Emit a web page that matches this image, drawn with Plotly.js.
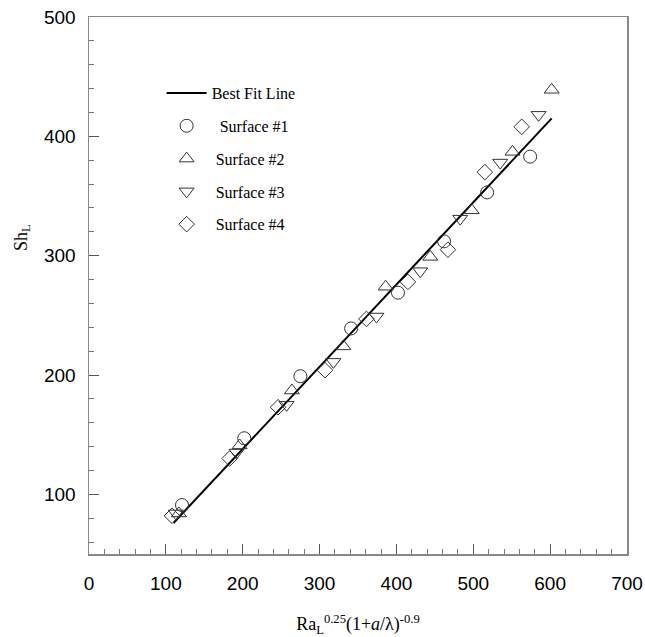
<!DOCTYPE html>
<html>
<head>
<meta charset="utf-8">
<script src="https://cdn.plot.ly/plotly-3.0.1.min.js"></script>
<style>html,body{margin:0;padding:0;background:#fff;}#chart{width:645px;height:637px;}</style>
</head>
<body>
<div id="chart"></div>
<script>
// Best fit line (end points)
const fitX = [110, 602];
const fitY = [76, 415];

// Surface #1 (circles)
const s1X = [121, 202, 275, 341, 402, 462, 518, 574];
const s1Y = [91, 147, 199, 239, 269, 312, 353, 383];

// Surface #2 (up triangles)
const s2X = [117, 196, 264, 331, 386, 444, 498, 551, 602];
const s2Y = [84, 141, 187, 224, 274, 299, 338, 387, 439];

// Surface #3 (down triangles)
const s3X = [113, 192, 257, 318, 374, 431, 483, 535, 585];
const s3Y = [84, 135, 175, 211, 249, 287, 331, 378, 418];

// Surface #4 (diamonds)
const s4X = [108, 183, 246, 307, 361, 415, 467, 515, 563];
const s4Y = [82, 130, 173, 204, 247, 278, 305, 370, 408];

const names = ['Best Fit Line', '\u00a0\u00a0Surface #1', '\u00a0Surface #2', '\u00a0Surface #3', '\u00a0Surface #4'];

const mk = (sym, size) => ({symbol: sym, size: size, color: '#333', line: {color: '#333', width: 1}});

const traces = [
  {x: fitX, y: fitY, type: 'scatter', mode: 'lines', name: names[0], legendgroup: 'g0',
   line: {color: '#000', width: 2}},
  {x: s1X, y: s1Y, type: 'scatter', mode: 'markers', name: names[1], legendgroup: 'g1', marker: mk('circle-open', 13)},
  {x: s2X, y: s2Y, type: 'scatter', mode: 'markers', name: names[2], legendgroup: 'g2', marker: mk('triangle-up-open', 13)},
  {x: s3X, y: s3Y, type: 'scatter', mode: 'markers', name: names[3], legendgroup: 'g3', marker: mk('triangle-down-open', 13)},
  {x: s4X, y: s4Y, type: 'scatter', mode: 'markers', name: names[4], legendgroup: 'g4', marker: mk('diamond-open', 12)}
];

const axisCommon = {
  showline: true, linecolor: '#888', linewidth: 1.5, mirror: true,
  ticks: 'inside', ticklen: 10, tickwidth: 1, tickcolor: '#555',
  showgrid: false, zeroline: false,
  tickfont: {family: 'Liberation Sans, Arial, sans-serif', size: 19, color: '#000'},
  minor: {ticks: 'inside', ticklen: 5, tickwidth: 1, tickcolor: '#777', dtick: 20, showgrid: false}
};

const layout = {
  width: 645, height: 637,
  margin: {l: 89, r: 18, t: 17, b: 83},
  paper_bgcolor: '#fff', plot_bgcolor: '#fff',
  showlegend: true,
  legend: {x: 0.135, y: 0.89, xanchor: 'left', yanchor: 'top', bgcolor: 'rgba(0,0,0,0)',
           font: {family: 'Liberation Serif, Times New Roman, serif', size: 16, color: '#000'},
           tracegroupgap: 9, traceorder: 'grouped', itemwidth: 40},
  xaxis: Object.assign({}, axisCommon, {
    range: [0, 700], dtick: 100, tick0: 0, ticklabelstandoff: 12,
    title: {text: 'Ra<sub>L</sub><sup>0.25</sup>(1+<i>a</i>/λ)<sup>-0.9</sup>',
            font: {family: 'Liberation Serif, Times New Roman, serif', size: 18, color: '#000'}, standoff: 24}
  }),
  yaxis: Object.assign({}, axisCommon, {
    range: [50, 500], dtick: 100, tick0: 0, ticklabelstandoff: 8
  }),
  annotations: [{
    text: 'Sh<sub>L</sub>', xref: 'paper', yref: 'paper', x: -0.125, y: 0.59,
    xanchor: 'center', yanchor: 'middle', textangle: -90, showarrow: false,
    font: {family: 'Liberation Serif, Times New Roman, serif', size: 18, color: '#000'}
  }]
};

Plotly.newPlot('chart', traces, layout, {staticPlot: true, displayModeBar: false});
</script>
</body>
</html>
